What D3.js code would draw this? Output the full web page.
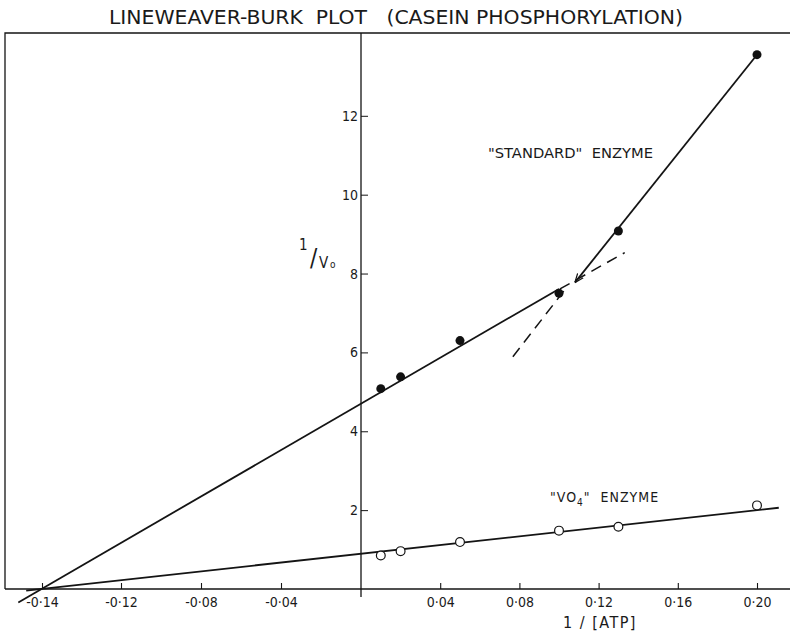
<!DOCTYPE html>
<html>
<head>
<meta charset="utf-8">
<script src="https://cdn.jsdelivr.net/npm/d3@7"></script>
<style>
  body { margin: 0; background: #fff; }
  svg text { font-family: "Liberation Sans Narrow", "DejaVu Sans Condensed", "DejaVu Sans", sans-serif; fill: #1a1a1a; white-space: pre; }
  .ink { stroke: #141414; fill: none; }
</style>
</head>
<body>
<svg id="chart" width="790" height="641"></svg>
<script>
// 1/[ATP] values of the measured points (same for both enzymes)
let atpInv = [0.01, 0.02, 0.05, 0.10, 0.13, 0.20]
// 1/Vo, "standard" enzyme (filled points)
let standardV = [5.08, 5.38, 6.30, 7.50, 9.08, 13.55]
// 1/Vo, "VO4" enzyme (open points)
let vo4V = [0.85, 0.96, 1.19, 1.48, 1.58, 2.12]

// hand drawn fit lines, [1/[ATP], 1/Vo] end points
let standardLowFit = [[-0.146, -0.34], [0.10, 7.61]]
let standardHighFit = [[0.20, 13.55], [0.108, 7.77]]
let vo4Fit = [[-0.144, -0.04], [0.211, 2.06]]
let dashedLow = [[0.1005, 7.61], [0.1332, 8.53]]
let dashedHigh = [[0.0767, 5.89], [0.1045, 7.69]]

// axis ticks
let xTicks = [-0.14, -0.12, -0.08, -0.04, 0.04, 0.08, 0.12, 0.16, 0.20]
let xTickLabels = ["-0·14", "-0·12", "-0·08", "-0·04", "0·04", "0·08", "0·12", "0·16", "0·20"]
let yTicks = [2, 4, 6, 8, 10, 12]

let svg = d3.select("#chart")
let frameLeft = 5, frameRight = 790, frameTop = 33, frameBottom = 589

// the printed x axis is not evenly spaced at its left end, so use a piecewise scale
let xScale = d3.scaleLinear()
    .domain([-0.14, -0.12, 0, 0.20])
    .range([42, 121, 361, 757])
let yScale = d3.scaleLinear()
    .domain([0, 14.1])
    .range([frameBottom, frameTop])

// arrow head for the high ATP line
svg.append("defs").append("marker")
    .attr("id", "arrow")
    .attr("viewBox", "0 0 10 10")
    .attr("refX", 10).attr("refY", 5)
    .attr("markerWidth", 9).attr("markerHeight", 9)
    .attr("markerUnits", "userSpaceOnUse")
    .attr("orient", "auto")
    .append("path")
    .attr("d", "M0,1 L10,5 L0,9")
    .attr("fill", "none")
    .attr("stroke", "#141414")
    .attr("stroke-width", 1.4)

// frame: top and left edges
svg.append("path")
    .attr("class", "ink")
    .attr("stroke-width", 1.3)
    .attr("d", `M${frameRight},${frameTop} L${frameLeft},${frameTop} L${frameLeft},${frameBottom}`)

// x axis along the bottom
let xAxis = svg.append("g")
    .attr("transform", "translate(0," + frameBottom + ")")
    .call(d3.axisBottom(xScale)
        .tickValues(xTicks)
        .tickFormat((d, i) => xTickLabels[i])
        .tickSize(-6)
        .tickPadding(8))
xAxis.select(".domain").remove()
xAxis.selectAll("line").attr("stroke", "#141414").attr("stroke-width", 1.1)
xAxis.selectAll("text").style("font-size", "14px").attr("fill", "#1a1a1a")
svg.append("line")
    .attr("class", "ink")
    .attr("stroke-width", 1.6)
    .attr("x1", frameLeft).attr("x2", frameRight)
    .attr("y1", frameBottom).attr("y2", frameBottom)

// y axis at 1/[ATP] = 0
let yAxis = svg.append("g")
    .attr("transform", "translate(" + xScale(0) + ",0)")
    .call(d3.axisLeft(yScale)
        .tickValues(yTicks)
        .tickSize(-7)
        .tickPadding(3))
yAxis.select(".domain").remove()
yAxis.selectAll("line").attr("stroke", "#141414").attr("stroke-width", 1)
yAxis.selectAll("text").style("font-size", "14px").attr("fill", "#1a1a1a")
svg.append("line")
    .attr("class", "ink")
    .attr("stroke-width", 1.3)
    .attr("x1", xScale(0)).attr("x2", xScale(0))
    .attr("y1", frameTop).attr("y2", frameBottom + 8)

// fit lines
let valueLine = d3.line()
    .x(d => xScale(d[0]))
    .y(d => yScale(d[1]))

svg.append("path").datum(standardLowFit)
    .attr("class", "ink").attr("stroke-width", 1.8)
    .attr("d", valueLine)
svg.append("path").datum(vo4Fit)
    .attr("class", "ink").attr("stroke-width", 1.8)
    .attr("d", valueLine)
svg.append("path").datum(standardHighFit)
    .attr("class", "ink").attr("stroke-width", 1.8)
    .attr("marker-end", "url(#arrow)")
    .attr("d", valueLine)
svg.selectAll(".dash")
    .data([dashedLow, dashedHigh])
    .enter()
    .append("path")
    .attr("class", "ink dash")
    .attr("stroke-width", 1.5)
    .attr("stroke-dasharray", "11,7")
    .attr("d", valueLine)

// points
svg.selectAll(".std")
    .data(atpInv.map((x, i) => [x, standardV[i]]))
    .enter()
    .append("circle")
    .attr("class", "std")
    .attr("cx", d => xScale(d[0]))
    .attr("cy", d => yScale(d[1]))
    .attr("r", 4.5)
    .attr("fill", "#111")

svg.selectAll(".vo4")
    .data(atpInv.map((x, i) => [x, vo4V[i]]))
    .enter()
    .append("circle")
    .attr("class", "vo4")
    .attr("cx", d => xScale(d[0]))
    .attr("cy", d => yScale(d[1]))
    .attr("r", 4.4)
    .attr("fill", "#fff")
    .attr("stroke", "#141414")
    .attr("stroke-width", 1.2)

// title
svg.append("text")
    .attr("x", 109).attr("y", 24)
    .attr("textLength", 574)
    .attr("lengthAdjust", "spacingAndGlyphs")
    .style("font-size", "20px")
    .style("font-weight", 300)
    .text("LINEWEAVER-BURK  PLOT   (CASEIN PHOSPHORYLATION)")

// series labels
svg.append("text")
    .attr("x", 488).attr("y", 158)
    .attr("textLength", 165)
    .attr("lengthAdjust", "spacingAndGlyphs")
    .style("font-size", "14px")
    .text("\"STANDARD\"  ENZYME")

let vo4Label = svg.append("text")
    .attr("x", 550).attr("y", 502)
    .style("font-size", "14px")
    .style("letter-spacing", "1px")
vo4Label.append("tspan").text("\"VO")
vo4Label.append("tspan").attr("dy", 4).style("font-size", "10px").text("4")
vo4Label.append("tspan").attr("dy", -4).text("\"  ENZYME")

// y axis title 1/Vo
svg.append("text").attr("x", 299).attr("y", 250).style("font-size", "15px").text("1")
svg.append("text").attr("x", 310).attr("y", 266).style("font-size", "24px").text("/")
svg.append("text").attr("x", 319).attr("y", 268).style("font-size", "15px").text("V")
svg.append("text").attr("x", 330).attr("y", 268).style("font-size", "10px").text("o")

// x axis title 1/[ATP]
svg.append("text")
    .attr("x", 600).attr("y", 628)
    .attr("text-anchor", "middle")
    .style("font-size", "16px")
    .style("letter-spacing", "1.5px")
    .text("1 / [ATP]")
</script>
</body>
</html>
